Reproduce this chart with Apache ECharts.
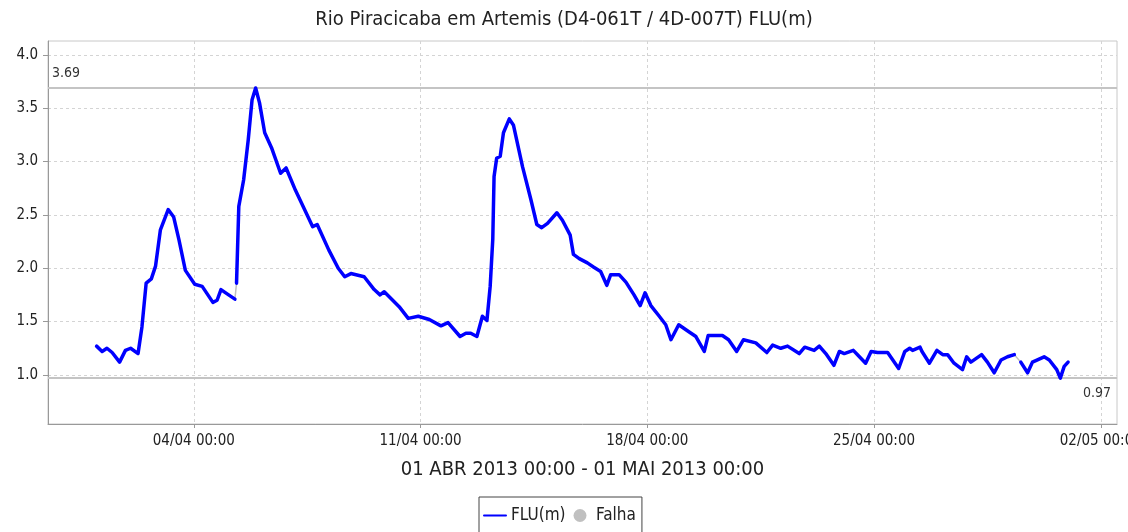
<!DOCTYPE html>
<html>
<head>
<meta charset="utf-8">
<script src="https://cdn.jsdelivr.net/npm/echarts@6/dist/echarts.min.js"></script>
<style>
  html, body { margin: 0; padding: 0; background: #fff; }
  #chart { width: 1128px; height: 532px; }
</style>
</head>
<body>
<div id="chart"></div>
<script>
const titleText = 'Rio Piracicaba em Artemis (D4-061T / 4D-007T) FLU(m)';
const periodText = '01 ABR 2013 00:00 - 01 MAI 2013 00:00';
const seriesName = 'FLU(m)';
const gapName = 'Falha';

// Time of each reading, in days since 01/04/2013 00:00
const days = [
  0.00, 0.17, 0.32, 0.48, 0.71, 0.89, 1.05, 1.28, 1.40, 1.53,
  1.69, 1.82, 1.97, 2.21, 2.38, 2.54, 2.74, 3.03, 3.26, 3.59,
  3.72, 3.84, 4.03, 4.27, 4.30, 4.32, 4.39, 4.54, 4.68, 4.80,
  4.91, 5.03, 5.19, 5.40, 5.68, 5.85, 6.14, 6.50, 6.67, 6.81,
  7.17, 7.46, 7.66, 7.85, 8.26, 8.57, 8.75, 8.88, 9.34, 9.62,
  9.93, 10.27, 10.63, 10.85, 11.22, 11.40, 11.55, 11.74, 11.91, 12.05,
  12.15, 12.23, 12.27, 12.35, 12.46, 12.56, 12.74, 12.87, 13.15, 13.41,
  13.59, 13.74, 13.92, 14.21, 14.38, 14.62, 14.72, 14.90, 15.15, 15.35,
  15.56, 15.75, 15.87, 16.13, 16.34, 16.59, 16.78, 16.93, 17.11, 17.37,
  17.57, 17.73, 17.97, 18.26, 18.50, 18.76, 18.88, 19.32, 19.51, 19.76,
  19.97, 20.35, 20.69, 20.87, 21.12, 21.33, 21.69, 21.86, 22.15, 22.31,
  22.51, 22.76, 22.93, 23.08, 23.36, 23.49, 23.74, 23.91, 24.11, 24.42,
  24.76, 24.95, 25.10, 25.19, 25.42, 25.48, 25.71, 25.94, 26.12, 26.27,
  26.47, 26.73, 26.86, 26.99, 27.32, 27.50, 27.71, 27.92, 28.12, 28.33,
  28.43, 28.53, 28.74, 28.89, 29.25, 29.41, 29.64, 29.75, 29.87, 29.99
];

// Water level FLU (m); null marks a missing reading (Falha)
const levels = [
  1.27, 1.22, 1.25, 1.21, 1.12, 1.23, 1.25, 1.20, 1.45, 1.86,
  1.90, 2.02, 2.36, 2.55, 2.48, 2.27, 1.98, 1.85, 1.83, 1.68,
  1.70, 1.80, 1.76, 1.71, null, 1.86, 2.58, 2.83, 3.20, 3.58,
  3.69, 3.55, 3.27, 3.13, 2.89, 2.94, 2.73, 2.50, 2.39, 2.41,
  2.17, 2.00, 1.92, 1.95, 1.92, 1.80, 1.75, 1.78, 1.64, 1.53,
  1.55, 1.52, 1.46, 1.49, 1.36, 1.39, 1.39, 1.36, 1.55, 1.51,
  1.83, 2.27, 2.86, 3.03, 3.05, 3.27, 3.40, 3.34, 2.95, 2.64,
  2.41, 2.38, 2.42, 2.52, 2.45, 2.31, 2.13, 2.09, 2.05, 2.01,
  1.97, 1.84, 1.94, 1.94, 1.87, 1.75, 1.65, 1.77, 1.65, 1.55,
  1.47, 1.33, 1.47, 1.41, 1.36, 1.22, 1.37, 1.37, 1.33, 1.22,
  1.33, 1.30, 1.21, 1.28, 1.25, 1.27, 1.20, 1.26, 1.23, 1.27,
  1.20, 1.09, 1.22, 1.20, 1.23, 1.19, 1.11, 1.22, 1.21, 1.21,
  1.06, 1.22, 1.25, 1.23, 1.26, 1.22, 1.11, 1.23, 1.19, 1.19,
  1.11, 1.05, 1.17, 1.12, 1.19, 1.12, 1.02, 1.14, 1.17, 1.19,
  null, 1.12, 1.02, 1.12, 1.17, 1.14, 1.05, 0.97, 1.08, 1.12
];

// Axis ticks
const tickDays = [3, 10, 17, 24, 31];
const tickLabels = ['04/04 00:00', '11/04 00:00', '18/04 00:00', '25/04 00:00', '02/05 00:00'];
const levelTicks = [1.0, 1.5, 2.0, 2.5, 3.0, 3.5, 4.0];

const FONT = "'DejaVu Sans Condensed', 'DejaVu Sans', sans-serif";

const flowData = days.map((d, i) => [d, levels[i] === null ? '-' : levels[i]]);

// Gray segments bridging each missing reading
const gapData = [];
levels.forEach((v, i) => {
  if (v === null && i > 0 && i < levels.length - 1) {
    if (gapData.length) gapData.push([days[i], '-']);
    gapData.push([days[i - 1], levels[i - 1]]);
    gapData.push([days[i + 1], levels[i + 1]]);
  }
});

const chart = echarts.init(document.getElementById('chart'), null, { renderer: 'canvas' });

chart.setOption({
  animation: false,
  backgroundColor: '#ffffff',
  textStyle: { fontFamily: FONT },
  title: {
    text: titleText,
    left: 'center',
    top: 10,
    padding: 0,
    textStyle: { fontFamily: FONT, fontSize: 20, fontWeight: 'normal', color: '#222' }
  },
  legend: {
    left: 479,
    top: 497,
    padding: [10, 6, 10, 4],
    itemWidth: 22,
    itemHeight: 13,
    itemGap: 8,
    borderColor: '#444',
    borderWidth: 1,
    backgroundColor: '#fff',
    textStyle: { fontFamily: FONT, fontSize: 17, color: '#222' },
    data: [
      { name: seriesName, lineStyle: { width: 2 }, itemStyle: { opacity: 0 } },
      { name: gapName, icon: 'circle' }
    ]
  },
  grid: {
    left: 48, right: 11, top: 41, bottom: 108,
    show: true,
    borderColor: '#c8c8c8',
    borderWidth: 1,
    containLabel: false,
    outerBoundsMode: 'none'
  },
  xAxis: {
    type: 'value',
    min: -1.5,
    max: 31.5,
    name: periodText,
    nameLocation: 'middle',
    nameGap: 36,
    nameTextStyle: { fontFamily: FONT, fontSize: 20, color: '#222' },
    axisLine: { onZero: false, lineStyle: { color: '#999', width: 1 } },
    axisTick: { show: true, length: 4, customValues: tickDays, lineStyle: { color: '#999' } },
    axisLabel: {
      customValues: tickDays,
      margin: 10,
      fontFamily: FONT,
      fontSize: 15,
      color: '#222',
      hideOverlap: false,
      formatter: v => tickLabels[tickDays.indexOf(v)] || ''
    },
    splitLine: { show: true, lineStyle: { color: '#d4d4d4', type: [3, 3], width: 1 } }
  },
  yAxis: {
    type: 'value',
    min: 0.54,
    max: 4.13,
    splitNumber: 7,
    axisLine: { show: true, onZero: false, lineStyle: { color: '#999', width: 1 } },
    axisTick: { show: true, length: 5, customValues: levelTicks, lineStyle: { color: '#999' } },
    axisLabel: {
      customValues: levelTicks,
      margin: 10,
      fontFamily: FONT,
      fontSize: 15,
      color: '#222',
      formatter: v => v.toFixed(1)
    },
    splitLine: { show: true, lineStyle: { color: '#d4d4d4', type: [3, 3], width: 1 } }
  },
  series: [
    {
      name: seriesName,
      type: 'line',
      data: flowData,
      symbol: 'none',
      connectNulls: false,
      color: '#0000ff',
      lineStyle: { color: '#0000ff', width: 3.5, join: 'round', cap: 'round' },
      z: 3,
      markLine: {
        silent: true,
        z: 1,
        symbol: ['none', 'none'],
        precision: 2,
        lineStyle: { color: '#c4c4c4', width: 2, type: 'solid' },
        data: [
          {
            type: 'max', valueDim: 'y',
            label: { position: 'insideStartTop', distance: [4, 8] }
          },
          {
            type: 'min', valueDim: 'y',
            label: { position: 'insideEndBottom', distance: [6, 8] }
          }
        ],
        label: {
          fontFamily: FONT,
          fontSize: 14,
          color: '#333',
          formatter: p => Number(p.value).toFixed(2)
        }
      }
    },
    {
      name: gapName,
      type: 'line',
      data: gapData,
      symbol: 'none',
      connectNulls: false,
      color: '#c0c0c0',
      itemStyle: { color: '#c0c0c0' },
      lineStyle: { color: '#c0c0c0', width: 1.5 },
      z: 2
    }
  ]
});
</script>
</body>
</html>
